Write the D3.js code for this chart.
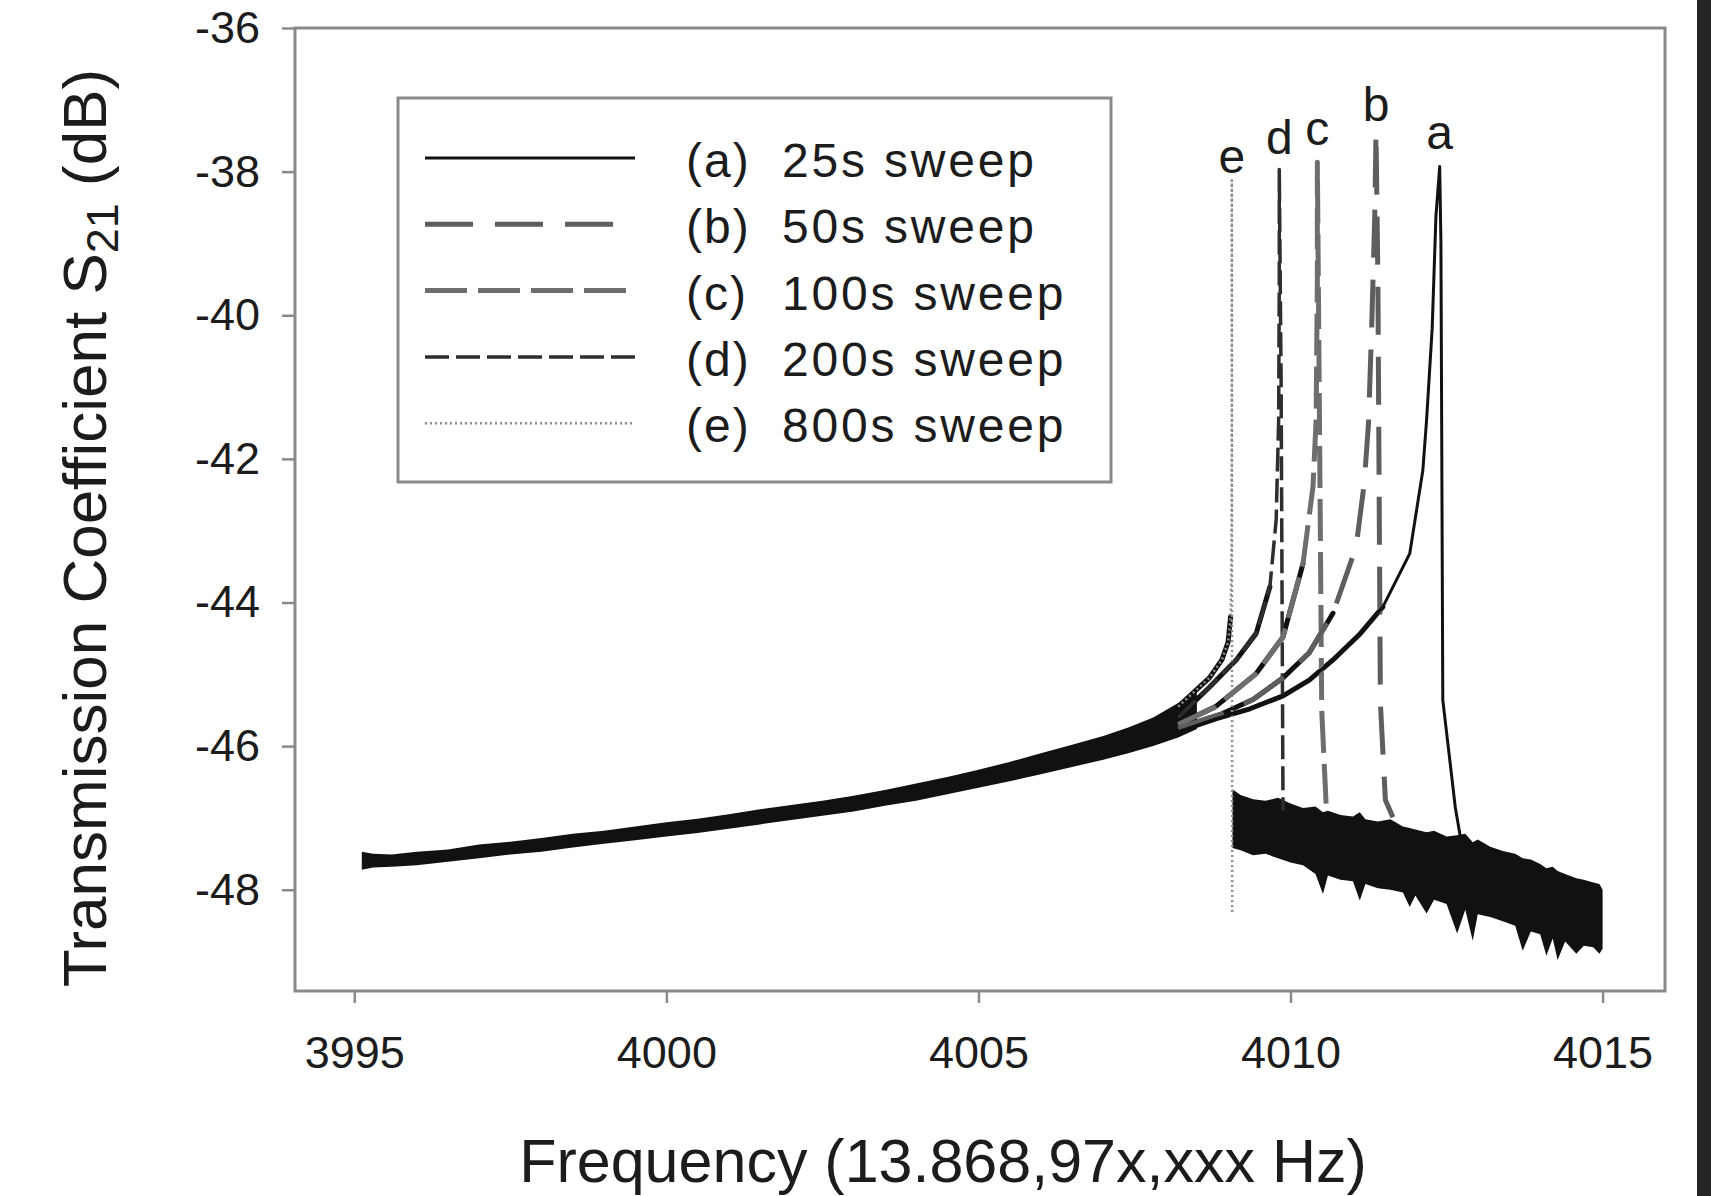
<!DOCTYPE html>
<html lang="en">
<head>
<meta charset="UTF-8">
<title>Transmission Coefficient S21 sweeps</title>
<script src="https://cdn.jsdelivr.net/npm/d3@7"></script>
<style>
    html, body { margin: 0; padding: 0; background: #fff; }
    svg { display: block; }
    text { font-family: "Liberation Sans", Arial, Helvetica, sans-serif; fill: #1c1c1c; }
</style>
</head>
<body>
<script>
    // ticks
    var xTicks = [3995, 4000, 4005, 4010, 4015];
    var yTicks = [-36, -38, -40, -42, -44, -46, -48];

    // legend / peak labels
    var sweepKeys = ["(a)", "(b)", "(c)", "(d)", "(e)"];
    var sweepTexts = ["25s sweep", "50s sweep", "100s sweep", "200s sweep", "800s sweep"];
    var peakLetters = ["a", "b", "c", "d", "e"];

    // low frequency part where all five sweeps lie on top of each other
    var trunkFreq  = [3995.12, 3995.3, 3995.6, 3996.0, 3996.5, 3997.0, 3997.5, 3998.0, 3998.5, 3999.0, 3999.5,
                      4000.0, 4000.5, 4001.0, 4001.5, 4002.0, 4002.5, 4003.0, 4003.5, 4004.0, 4004.5, 4005.0,
                      4005.5, 4006.0, 4006.5, 4007.0, 4007.4, 4007.8, 4008.2, 4008.5];
    var trunkUpper = [-47.47, -47.50, -47.51, -47.47, -47.44, -47.37, -47.33, -47.28, -47.22, -47.18, -47.12,
                      -47.06, -47.01, -46.95, -46.88, -46.82, -46.76, -46.69, -46.61, -46.52, -46.43, -46.33,
                      -46.22, -46.10, -45.98, -45.86, -45.74, -45.60, -45.40, -45.25];
    var trunkLower = [-47.72, -47.69, -47.68, -47.66, -47.61, -47.56, -47.51, -47.47, -47.41, -47.36, -47.31,
                      -47.26, -47.21, -47.15, -47.09, -47.03, -46.97, -46.91, -46.83, -46.76, -46.67, -46.58,
                      -46.49, -46.39, -46.29, -46.19, -46.10, -46.00, -45.88, -45.76];

    // each sweep from the trunk, up the resonance and down to the floor  [freq, dB]
    var sweepA = [[4008.2, -45.80], [4008.8, -45.62], [4009.35, -45.48], [4009.88, -45.30], [4010.3, -45.08],
                  [4010.68, -44.80], [4011.1, -44.45], [4011.48, -44.06], [4011.91, -43.32], [4012.12, -42.16],
                  [4012.18, -41.46], [4012.27, -40.18], [4012.33, -38.62], [4012.39, -37.93], [4012.41, -39.0],
                  [4012.44, -45.36], [4012.64, -46.85], [4012.73, -47.31]];
    var sweepB = [[4008.2, -45.75], [4008.9, -45.55], [4009.4, -45.35], [4009.88, -45.05], [4010.3, -44.70],
                  [4010.68, -44.15], [4011.05, -43.23], [4011.18, -42.35], [4011.25, -41.50], [4011.30, -40.18],
                  [4011.35, -38.60], [4011.37, -37.45], [4011.40, -39.5], [4011.44, -45.40], [4011.52, -46.75],
                  [4011.64, -46.99]];
    var sweepC = [[4008.2, -45.70], [4008.8, -45.45], [4009.45, -44.99], [4009.88, -44.48], [4010.2, -43.46],
                  [4010.36, -42.39], [4010.41, -41.46], [4010.43, -39.5], [4010.43, -37.87], [4010.46, -41.0],
                  [4010.50, -45.5], [4010.57, -46.8]];
    var sweepD = [[4008.2, -45.60], [4008.7, -45.18], [4009.13, -44.80], [4009.45, -44.43], [4009.67, -43.78],
                  [4009.77, -42.85], [4009.81, -41.46], [4009.82, -39.5], [4009.82, -37.97], [4009.85, -41.0],
                  [4009.87, -45.0], [4009.88, -46.9]];
    var sweepE = [[4008.2, -45.45], [4008.7, -45.05], [4008.9, -44.80], [4009.0, -44.55], [4009.04, -44.20],
                  [4009.055, -43.2], [4009.06, -41.5], [4009.06, -38.12], [4009.065, -48.33]];

    // noisy floor above resonance, all sweeps overlapping
    var floorFreq  = [4009.07, 4009.2, 4009.4, 4009.6, 4009.8, 4010.0, 4010.2, 4010.4, 4010.52, 4010.6, 4010.8,
                      4011.0, 4011.11, 4011.2, 4011.4, 4011.6, 4011.8, 4011.91, 4012.0, 4012.18, 4012.3, 4012.5,
                      4012.67, 4012.8, 4012.92, 4013.0, 4013.2, 4013.4, 4013.6, 4013.72, 4013.85, 4014.0, 4014.1,
                      4014.2, 4014.28, 4014.4, 4014.58, 4014.7, 4014.85, 4014.95, 4015.0];
    var floorUpper = [-46.60, -46.68, -46.74, -46.76, -46.72, -46.80, -46.86, -46.84, -46.92, -46.90, -46.96,
                      -46.98, -46.92, -47.02, -47.05, -47.02, -47.12, -47.14, -47.16, -47.20, -47.18, -47.26,
                      -47.24, -47.22, -47.34, -47.30, -47.40, -47.46, -47.50, -47.56, -47.58, -47.64, -47.70,
                      -47.68, -47.74, -47.78, -47.84, -47.86, -47.90, -47.92, -48.00];
    var floorLower = [-47.42, -47.45, -47.52, -47.50, -47.56, -47.62, -47.66, -47.78, -48.06, -47.80, -47.86,
                      -47.88, -48.15, -47.92, -47.98, -48.00, -48.04, -48.24, -48.08, -48.33, -48.14, -48.20,
                      -48.61, -48.28, -48.71, -48.34, -48.38, -48.44, -48.50, -48.85, -48.58, -48.62, -48.92,
                      -48.68, -48.98, -48.72, -48.89, -48.78, -48.80, -48.89, -48.82];

    var sweeps = [sweepA, sweepB, sweepC, sweepD, sweepE];

    // line styles a..e
    var styles = [
        {stroke: "#111", width: 3, dash: null},
        {stroke: "#5e5e5e", width: 5, dash: "48,22"},
        {stroke: "#6e6e6e", width: 5, dash: "42,11"},
        {stroke: "#2e2e2e", width: 3.5, dash: "24,7"},
        {stroke: "#8e8e8e", width: 2.5, dash: "2,3"}
    ];
    var labelLift = [18, 11, 17, 15, 7];     // px between peak top and letter baseline

    var width = 1711, height = 1196;
    var plot = {left: 295, right: 1665, top: 28, bottom: 991};

    var svg = d3.select("body").append("svg")
        .attr("width", width)
        .attr("height", height)
        .style("background", "#fff");

    var x = d3.scaleLinear().domain([3994.05, 4016]).range([plot.left, plot.right]);
    var y = d3.scaleLinear().domain([-49.41, -36]).range([plot.bottom, plot.top]);

    // frame
    svg.append("rect")
        .attr("x", plot.left).attr("y", plot.top)
        .attr("width", plot.right - plot.left).attr("height", plot.bottom - plot.top)
        .attr("fill", "none").attr("stroke", "#8a8a8a").attr("stroke-width", 3);

    // axes
    var gx = svg.append("g")
        .attr("transform", "translate(0," + plot.bottom + ")")
        .call(d3.axisBottom(x).tickValues(xTicks).tickSize(12).tickPadding(33).tickFormat(function (d) { return String(d); }));
    var gy = svg.append("g")
        .attr("transform", "translate(" + plot.left + ",0)")
        .call(d3.axisLeft(y).tickValues(yTicks).tickSize(13).tickPadding(22).tickFormat(function (d) { return String(d); }));

    [gx, gy].forEach(function (g) {
        g.select(".domain").remove();
        g.selectAll(".tick line").attr("stroke", "#8a8a8a").attr("stroke-width", 2.5);
        g.selectAll(".tick text").attr("font-size", 45).attr("fill", "#1c1c1c")
            .attr("font-family", "'Liberation Sans', Arial, sans-serif");
    });

    // axis titles
    svg.append("text")
        .attr("x", 943).attr("y", 1182)
        .attr("text-anchor", "middle")
        .attr("font-size", 61)
        .text("Frequency (13.868,97x,xxx Hz)");

    var yTitle = svg.append("text")
        .attr("transform", "translate(106,528) rotate(-90)")
        .attr("text-anchor", "middle")
        .attr("font-size", 62);
    yTitle.append("tspan").text("Transmission Coefficient S");
    yTitle.append("tspan").attr("font-size", 45).attr("dy", 12).text("21");
    yTitle.append("tspan").attr("dy", -12).text(" (dB)");

    // shaded bands for the overlapping parts
    var trunk = trunkFreq.map(function (f, i) { return {f: f, hi: trunkUpper[i], lo: trunkLower[i]}; });
    var floor = floorFreq.map(function (f, i) { return {f: f, hi: floorUpper[i], lo: floorLower[i]}; });

    var band = d3.area()
        .x(function (d) { return x(d.f); })
        .y0(function (d) { return y(d.lo); })
        .y1(function (d) { return y(d.hi); });

    svg.append("path").datum(trunk).attr("d", band).attr("fill", "#111");
    svg.append("path").datum(floor).attr("d", band).attr("fill", "#111");

    var line = d3.line()
        .x(function (d) { return x(d[0]); })
        .y(function (d) { return y(d[1]); });

    // noisy lower flank of each sweep: dark and thick until it climbs past -44.4 dB
    sweeps.forEach(function (s) {
        var k = s.findIndex(function (d) { return d[1] > -44.4; });
        svg.append("path")
            .datum(s.slice(0, k + 1))
            .attr("d", line)
            .attr("fill", "none")
            .attr("stroke", "#111")
            .attr("stroke-width", 5)
            .attr("stroke-linejoin", "round")
            .attr("stroke-linecap", "round");
    });

    // the five sweeps, e drawn first so a ends on top
    for (var i = sweeps.length - 1; i >= 0; i--) {
        svg.append("path")
            .datum(sweeps[i])
            .attr("d", line)
            .attr("fill", "none")
            .attr("stroke", styles[i].stroke)
            .attr("stroke-width", styles[i].width)
            .attr("stroke-dasharray", styles[i].dash)
            .attr("stroke-linejoin", "round");
    }

    // letters above each peak
    sweeps.forEach(function (s, i) {
        var peak = s.reduce(function (a, b) { return b[1] > a[1] ? b : a; });
        svg.append("text")
            .attr("x", x(peak[0]))
            .attr("y", y(peak[1]) - labelLift[i])
            .attr("text-anchor", "middle")
            .attr("font-size", 48)
            .text(peakLetters[i]);
    });

    // legend
    var legend = svg.append("g").attr("transform", "translate(398,98)");
    legend.append("rect")
        .attr("width", 713).attr("height", 384)
        .attr("fill", "#fff").attr("stroke", "#8a8a8a").attr("stroke-width", 3);

    var rows = legend.selectAll(".row")
        .data(sweepKeys)
        .enter().append("g")
        .attr("transform", function (d, i) { return "translate(0," + (60 + i * 66.3) + ")"; });

    rows.append("line")
        .attr("x1", 27).attr("x2", 237)
        .attr("stroke", function (d, i) { return styles[i].stroke; })
        .attr("stroke-width", function (d, i) { return styles[i].width; })
        .attr("stroke-dasharray", function (d, i) { return styles[i].dash; });
    rows.append("text")
        .attr("x", 288).attr("y", 19)
        .attr("font-size", 48).attr("letter-spacing", 2)
        .text(function (d) { return d; });
    rows.append("text")
        .attr("x", 384).attr("y", 19)
        .attr("font-size", 48).attr("letter-spacing", 2.8)
        .text(function (d, i) { return sweepTexts[i]; });

    // dark strip at the right edge of the scan
    svg.append("rect")
        .attr("x", 1697).attr("y", 0)
        .attr("width", width - 1697).attr("height", height)
        .attr("fill", "#242424");
</script>
</body>
</html>
